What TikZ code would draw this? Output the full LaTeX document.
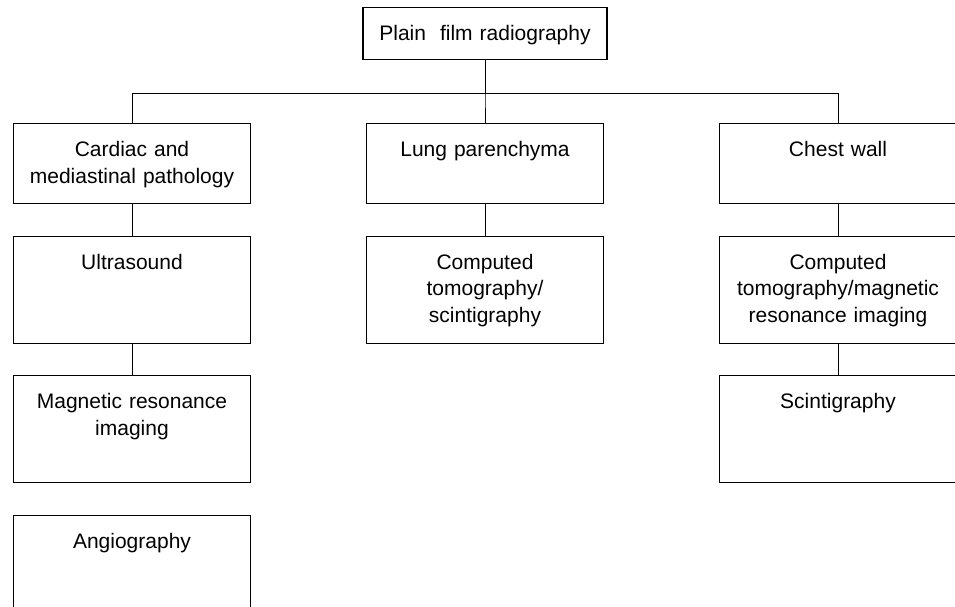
\documentclass[tikz,border=0pt]{standalone}
\usepackage{fontspec}
\setmainfont{Liberation Sans}
\usetikzlibrary{trees}

\begin{document}
\begin{tikzpicture}[x=1pt,y=1pt,
    box/.style={draw, line width=1.1pt, anchor=north, text width=229pt, align=center,
      inner xsep=4pt, inner ysep=0pt, text height=33pt,
      font=\fontsize{21}{26.5}\selectfont},
    tall/.style={text depth=74pt},
    growth parent anchor=south,
    edge from parent/.style={draw, line width=0.8pt},
    level 1/.style={sibling distance=353pt, level distance=63pt,
      edge from parent path={(\tikzparentnode.south) -- ++(0,-33.3) -| (\tikzchildnode.north)}},
    level 2/.style={level distance=31.5pt,
      edge from parent path={(\tikzparentnode.south) -- (\tikzchildnode.north)}}]
  \useasboundingbox (0,0) rectangle (955,-606);
  \node[box, text width=236pt, text depth=19pt] (plain) at (485,-7) {Plain~ film radiography}
    child {node[box, text depth=47pt] (cardiac) {Cardiac and\\ mediastinal pathology}
      child {node[box, tall] (ultra) {Ultrasound}
        child {node[box, tall] (mri) {Magnetic resonance\\ imaging}
          child {node[box, tall] (angio) {Angiography} edge from parent[draw=none]}
        }
      }
    }
    child {node[box, text depth=47pt] (lung) {Lung parenchyma}
      child {node[box, tall] (ctscint) {Computed\\ tomography/\\ scintigraphy}}
    }
    child {node[box, text depth=47pt] (wall) {Chest wall}
      child {node[box, tall] (ctmri) {Computed\\ tomography/magnetic\\ resonance imaging}
        child {node[box, tall] (scint) {Scintigraphy}}
      }
    };
\end{tikzpicture}
\end{document}
